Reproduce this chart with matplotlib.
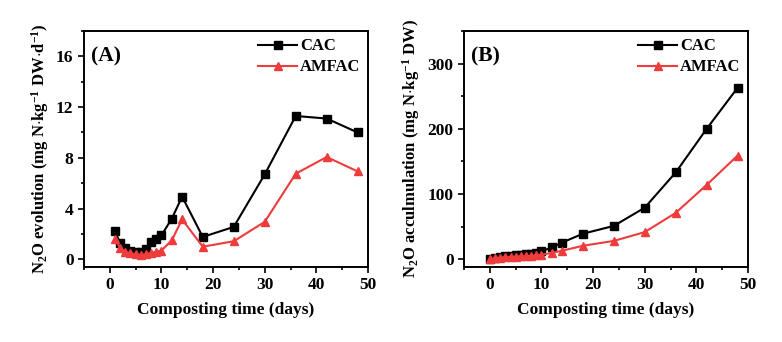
import matplotlib.pyplot as plt
from matplotlib.ticker import MultipleLocator

plt.rcParams["font.family"] = ["Liberation Serif", "DejaVu Serif"]
plt.rcParams["font.weight"] = "bold"
plt.rcParams["mathtext.fontset"] = "custom"
plt.rcParams["mathtext.rm"] = "Liberation Serif:bold"
plt.rcParams["mathtext.bf"] = "Liberation Serif:bold"
plt.rcParams["mathtext.it"] = "Liberation Serif:bold"

RED = "#EE3B3B"

# daily N2O flux
days_a = [1, 2, 3, 4, 5, 6, 7, 8, 9, 10, 12, 14, 18, 24, 30, 36, 42, 48]
cac_flux = [2.2, 1.3, 0.9, 0.7, 0.6, 0.6, 0.85, 1.4, 1.6, 1.9, 3.2, 4.95,
            1.77, 2.56, 6.7, 11.3, 11.1, 10.0]
amfac_flux = [1.64, 0.9, 0.6, 0.5, 0.4, 0.35, 0.4, 0.5, 0.6, 0.7, 1.5, 3.15,
              1.0, 1.43, 2.96, 6.75, 8.07, 6.93]

# cumulative N2O
days_b = [0, 1, 2, 3, 4, 5, 6, 7, 8, 9, 10, 12, 14, 18, 24, 30, 36, 42, 48]
cac_cum = [0, 2.2, 3.5, 4.4, 5.1, 5.7, 6.3, 7.2, 8.6, 10.2, 12.1, 18, 25.5,
           39, 51, 79, 133, 200, 263]
amfac_cum = [0, 1.6, 2.5, 3.1, 3.6, 4.0, 4.4, 4.8, 5.3, 5.9, 6.6, 9.7, 13,
             20.5, 28, 41.5, 71, 114, 159]

fig = plt.figure(figsize=(7.82, 3.42), dpi=100)
ax1 = fig.add_axes([0.1074, 0.2193, 0.3632, 0.6901])
ax2 = fig.add_axes([0.5934, 0.2193, 0.3631, 0.6901])


def draw(ax, x, y1, y2):
    ax.plot(x, y1, color="black", marker="s", markersize=5.5, lw=1.5, label="CAC")
    ax.plot(x, y2, color=RED, marker="^", markersize=6, lw=1.5, label="AMFAC")
    for s in ax.spines.values():
        s.set_linewidth(1.4)
    ax.tick_params(which="both", direction="out", width=1.2, labelsize=12.5)
    ax.tick_params(which="major", length=4)
    ax.tick_params(which="minor", length=2.5)
    ax.set_xlim(-5, 50)
    ax.xaxis.set_major_locator(MultipleLocator(10))
    ax.xaxis.set_minor_locator(MultipleLocator(5))
    ax.set_xlabel("Composting time (days)", fontsize=12.5, fontweight="bold", labelpad=6)
    for lbl in ax.get_xticklabels() + ax.get_yticklabels():
        lbl.set_fontweight("bold")
    ax.legend(loc="upper right", frameon=False, handlelength=2.3,
              handletextpad=0.2, labelspacing=0.3, borderaxespad=0.05,
              prop={"weight": "bold", "size": 12})


draw(ax1, days_a, cac_flux, amfac_flux)
ax1.set_ylim(-0.6, 18)
ax1.yaxis.set_major_locator(MultipleLocator(4))
ax1.yaxis.set_minor_locator(MultipleLocator(2))
ax1.set_ylabel(r"N$_\mathrm{2}$O evolution (mg N$\cdot$kg$^\mathrm{-1}$ DW$\cdot$d$^\mathrm{-1}$)",
               fontsize=12, fontweight="bold", labelpad=4)
ax1.text(0.025, 0.935, "(A)", transform=ax1.transAxes, fontsize=15.5,
         fontweight="bold", va="top")

draw(ax2, days_b, cac_cum, amfac_cum)
ax2.set_ylim(-12, 350)
ax2.yaxis.set_major_locator(MultipleLocator(100))
ax2.yaxis.set_minor_locator(MultipleLocator(50))
ax2.set_ylabel(r"N$_\mathrm{2}$O acculmulation (mg N$\cdot$kg$^\mathrm{-1}$ DW)",
               fontsize=12, fontweight="bold", labelpad=4)
ax2.text(0.025, 0.935, "(B)", transform=ax2.transAxes, fontsize=15.5,
         fontweight="bold", va="top")

fig.savefig("out.png", dpi=100)
